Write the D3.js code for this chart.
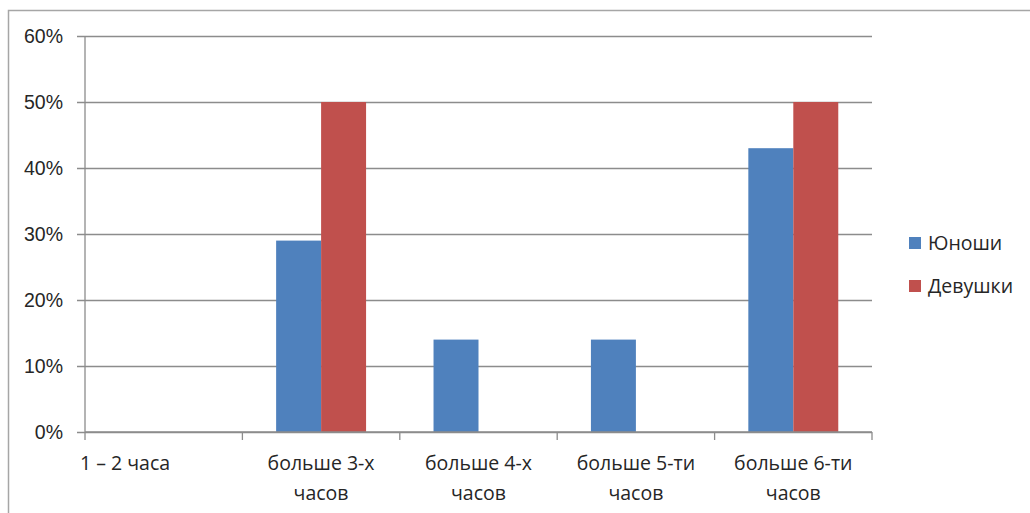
<!DOCTYPE html>
<html>
<head>
<meta charset="utf-8">
<script src="https://cdn.jsdelivr.net/npm/d3@7"></script>
<style>
  html, body { margin: 0; padding: 0; background: #fff; }
  svg { display: block; font-family: "Open Sans", "Liberation Sans", sans-serif; }
</style>
</head>
<body>
<svg id="chart" width="1030" height="513"></svg>
<script>
// Categories (time spent), series and axis ticks
const categories = ["1 – 2 часа", "больше 3-х часов", "больше 4-х часов", "больше 5-ти часов", "больше 6-ти часов"];
const categoryLines = [["1 – 2 часа"], ["больше 3-х", "часов"], ["больше 4-х", "часов"], ["больше 5-ти", "часов"], ["больше 6-ти", "часов"]];
const seriesNames = ["Юноши", "Девушки"];
const boys = [0, 29, 14, 14, 43];
const girls = [0, 50, 0, 0, 50];
const yTicks = [0, 10, 20, 30, 40, 50, 60];

const colors = ["#4F81BD", "#C0504D"];
const fontSize = 19.5;
const svg = d3.select("#chart");

// Outer chart-area frame
svg.append("rect")
  .attr("x", 8.5).attr("y", 10.5)
  .attr("width", 1100).attr("height", 600)
  .attr("fill", "none").attr("stroke", "#a6a6a6").attr("stroke-width", 1.5);

const plot = { left: 85, right: 872, top: 36, bottom: 432 };

const x = d3.scaleBand().domain(categories).range([plot.left, plot.right]).padding(0);
const inner = d3.scaleBand().domain(seriesNames).range([0, x.bandwidth()])
  .paddingInner(0).paddingOuter(0.75);
const y = d3.scaleLinear().domain([0, 60]).range([plot.bottom, plot.top]);

const g = svg.append("g");

// Horizontal gridlines with outward ticks
g.append("g")
  .attr("transform", `translate(${plot.left},0)`)
  .call(d3.axisLeft(y).tickValues(yTicks)
    .tickSize(-(plot.right - plot.left)).tickSizeOuter(0)
    .tickFormat(d => d + "%"))
  .call(a => a.select(".domain").remove())
  .call(a => a.selectAll(".tick line")
    .attr("x1", -8).attr("stroke", "#8c8c8c").attr("stroke-width", 1.3))
  .call(a => a.selectAll(".tick text")
    .attr("fill", "#262626").attr("font-size", fontSize).attr("x", -22));

// Bars
const seriesData = [boys, girls];
seriesNames.forEach((name, si) => {
  g.append("g").selectAll("rect")
    .data(categories.map((c, i) => ({ c, v: seriesData[si][i] })))
    .join("rect")
    .attr("x", d => x(d.c) + inner(name))
    .attr("width", inner.bandwidth())
    .attr("y", d => y(d.v))
    .attr("height", d => y(0) - y(d.v))
    .attr("fill", colors[si]);
});

// Vertical axis line
g.append("line")
  .attr("x1", plot.left).attr("x2", plot.left)
  .attr("y1", plot.top).attr("y2", plot.bottom)
  .attr("stroke", "#8c8c8c").attr("stroke-width", 1.3);

// Category axis baseline and tick marks between categories
g.append("line")
  .attr("x1", plot.left).attr("x2", plot.right)
  .attr("y1", plot.bottom).attr("y2", plot.bottom)
  .attr("stroke", "#8c8c8c").attr("stroke-width", 1.3);
const boundaries = categories.map(c => x(c)).concat([plot.right]);
g.append("g").selectAll("line")
  .data(boundaries)
  .join("line")
  .attr("x1", d => d).attr("x2", d => d)
  .attr("y1", plot.bottom).attr("y2", plot.bottom + 8)
  .attr("stroke", "#8c8c8c").attr("stroke-width", 1.3);

// Category labels
categories.forEach((c, i) => {
  const lines = categoryLines[i];
  const t = g.append("text")
    .attr("fill", "#262626").attr("font-size", fontSize);
  if (i === 0) {
    t.attr("text-anchor", "start").attr("x", x(c) - 5).attr("y", 470).text(lines[0]);
  } else {
    t.attr("text-anchor", "middle");
    lines.forEach((ln, k) => {
      t.append("tspan")
        .attr("x", x(c) + x.bandwidth() / 2)
        .attr("y", 470 + k * 30)
        .text(ln);
    });
  }
});

// Legend
const legend = svg.append("g");
seriesNames.forEach((name, i) => {
  const ly = 243 + i * 43;
  legend.append("rect")
    .attr("x", 909).attr("y", ly - 6)
    .attr("width", 12).attr("height", 12)
    .attr("fill", colors[i]);
  legend.append("text")
    .attr("x", 928).attr("y", ly + 7)
    .attr("fill", "#262626").attr("font-size", fontSize)
    .text(name);
});
</script>
</body>
</html>
